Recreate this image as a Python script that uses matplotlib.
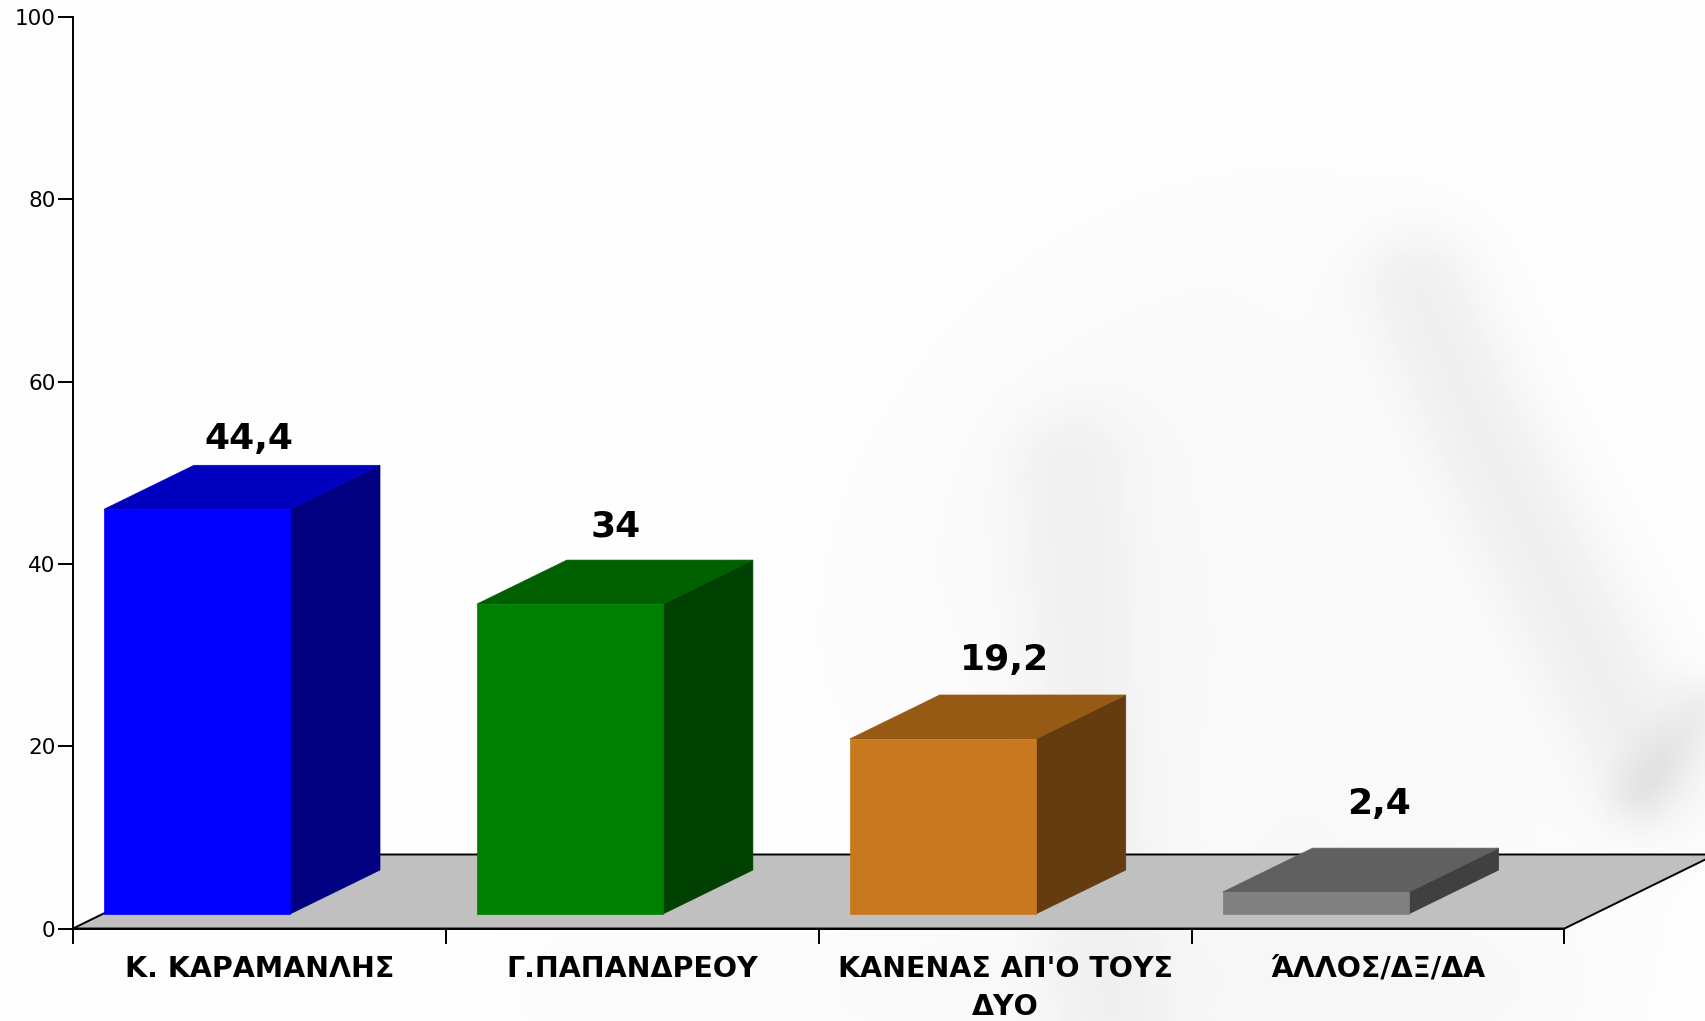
import numpy as np
import matplotlib
matplotlib.use('Agg')
import matplotlib.pyplot as plt
from matplotlib.patches import Polygon

categories = ['Κ. ΚΑΡΑΜΑΝΛΗΣ', 'Γ.ΠΑΠΑΝΔΡΕΟΥ', 'ΚΑΝΕΝΑΣ ΑΠ\'Ο ΤΟΥΣ\nΔΥΟ', 'ΆΛΛΟΣ/ΔΞ/ΔΑ']
values = [44.4, 34, 19.2, 2.4]
value_labels = ['44,4', '34', '19,2', '2,4']
front_colors = ['#0000ff', '#008000', '#c8781e', '#808080']
top_colors = ['#0000c0', '#006000', '#965a14', '#606060']
side_colors = ['#000080', '#004000', '#643c0f', '#404040']
y_ticks = [0, 20, 40, 60, 80, 100]

W, H = 1706, 1021
ax_l, ax_r, ax_b, ax_t = 73, 1564.5, 928.5, 17
px_x = (ax_r - ax_l) / 4.0
px_y = (ax_b - ax_t) / 100.0

# label nudges from the bar centre, pixels
label_dx = [-10, -17, -1, 1]
label_dy = [85, 92, 93, 103]


def stroke(xx, yy, pts, sigma):
    # faint blurred band along a polyline
    d = np.full(xx.shape, 1e12)
    for (x0, y0), (x1, y1) in zip(pts[:-1], pts[1:]):
        vx, vy = x1 - x0, y1 - y0
        t = np.clip(((xx - x0) * vx + (yy - y0) * vy) / (vx * vx + vy * vy), 0, 1)
        d = np.minimum(d, (xx - x0 - t * vx) ** 2 + (yy - y0 - t * vy) ** 2)
    return np.exp(-d / (2 * sigma * sigma))


yy, xx = np.mgrid[0:H, 0:W].astype(float)
shade = 0.022 * stroke(xx, yy, [(1150, 500), (1300, 800)], 240)
shade += 0.012 * stroke(xx, yy, [(600, 1000), (1500, 1000)], 70)
shade += 0.05 * stroke(xx, yy, [(1420, 290), (1480, 430), (1570, 610), (1650, 770)], 42)
shade += 0.035 * stroke(xx, yy, [(1070, 470), (1085, 700), (1100, 900), (1110, 1021)], 42)
shade += 0.05 * stroke(xx, yy, [(1640, 790), (1700, 710)], 22)
shade *= 1 + 0.35 * np.sin(xx * np.pi / 2) * np.sin(yy * np.pi / 2)
fade = np.clip((xx + yy - 1000) / 500.0, 0, 1)
bg = 0.995 - shade * fade

fig = plt.figure(figsize=(W / 100, H / 100), dpi=100)
back = fig.add_axes([0, 0, 1, 1], zorder=0)
back.imshow(bg, cmap='gray', vmin=0, vmax=1, aspect='auto', interpolation='nearest')
back.axis('off')

ax = fig.add_axes([ax_l / W, 1 - ax_b / H, (ax_r - ax_l) / W, (ax_b - ax_t) / H], zorder=1)
ax.patch.set_alpha(0)
ax.set_xlim(0, 4)
ax.set_ylim(0, 100)

# floor
floor_dx = 151 / px_x
floor_dy = 74 / px_y
ax.add_patch(Polygon([(0, 0), (4, 0), (4 + floor_dx, floor_dy), (floor_dx, floor_dy)],
                     closed=True, fc='#c0c0c0', ec='black', lw=1.4, clip_on=False, zorder=1))

# bars
x = np.arange(len(values))
gap = 31 / px_x
width = 186 / px_x
base = 14.5 / px_y
dx = 90 / px_x
dy = 44 / px_y
for i, v in enumerate(values):
    x0 = i + gap
    x1 = x0 + width
    top = base + v
    ax.add_patch(Polygon([(x1, base), (x1 + dx, base + dy), (x1 + dx, top + dy), (x1, top)],
                         closed=True, fc=side_colors[i], ec=side_colors[i], lw=0.5,
                         clip_on=False, zorder=2))
    ax.add_patch(Polygon([(x0, top), (x1, top), (x1 + dx, top + dy), (x0 + dx, top + dy)],
                         closed=True, fc=top_colors[i], ec=top_colors[i], lw=0.5,
                         clip_on=False, zorder=2))
    ax.text(i + 0.5 + label_dx[i] / px_x, v + label_dy[i] / px_y, value_labels[i],
            ha='center', va='center', fontsize=26, fontweight='bold', color='black', zorder=5)
ax.bar(x + gap, values, width=width, bottom=base, align='edge', color=front_colors,
       edgecolor=front_colors, linewidth=0.5, zorder=3)

for s in ['top', 'right']:
    ax.spines[s].set_visible(False)
for s in ['left', 'bottom']:
    ax.spines[s].set_linewidth(1.4)
    ax.spines[s].set_zorder(4)

ax.set_yticks(y_ticks)
ax.tick_params(axis='y', length=10.5, width=1.4, labelsize=15.5, pad=2)
ax.set_xticks(np.arange(5))
ax.set_xticklabels([])
ax.tick_params(axis='x', which='major', length=10.5, width=1.4)
ax.set_xticks(x + 0.5, categories, minor=True)
ax.tick_params(axis='x', which='minor', length=0, pad=19, labelsize=20.5)
for t in ax.get_xticklabels(minor=True):
    t.set_fontweight('bold')
    t.set_linespacing(1.45)

fig.savefig('out.png', dpi=100)
